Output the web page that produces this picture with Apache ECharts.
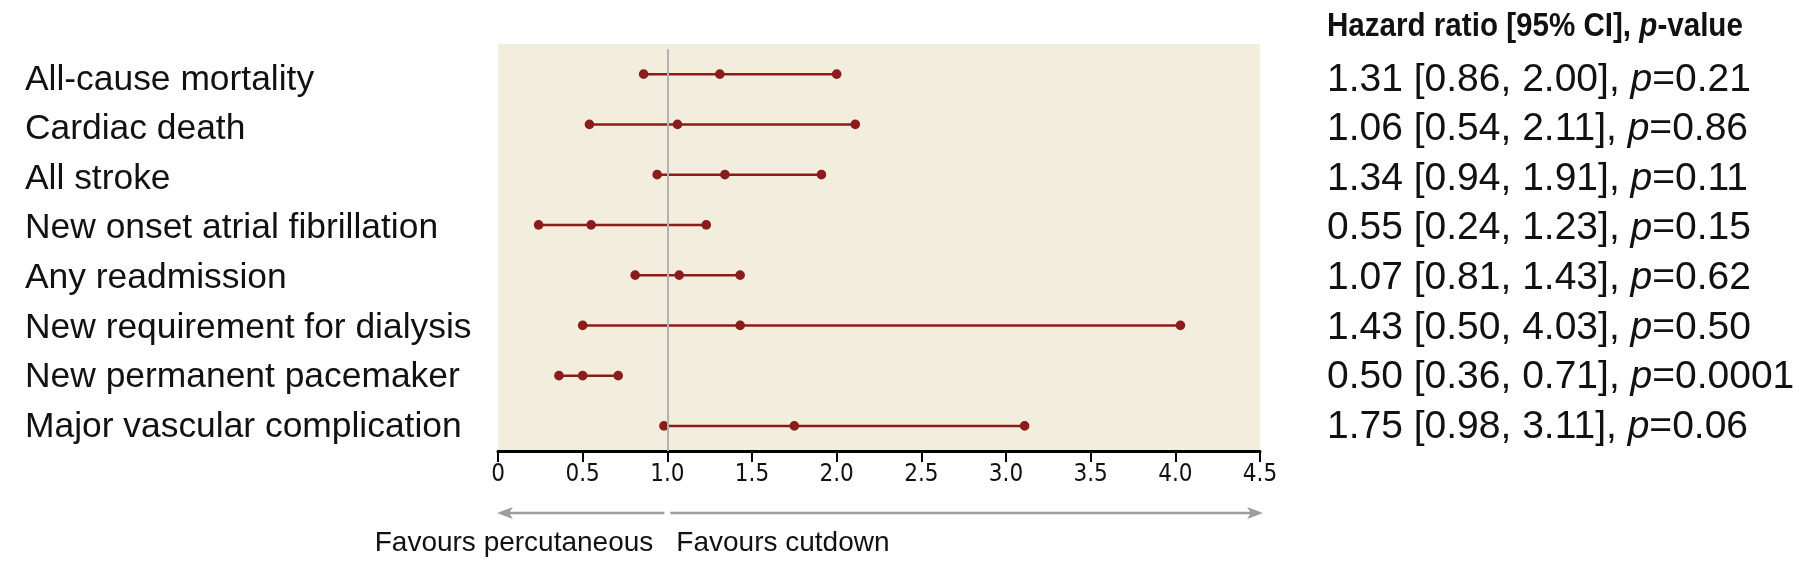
<!DOCTYPE html>
<html>
<head>
<meta charset="utf-8">
<script src="https://cdn.jsdelivr.net/npm/echarts@6/dist/echarts.min.js"></script>
<style>html,body{margin:0;padding:0;background:#fff}#c{width:1808px;height:579px}</style>
</head>
<body>
<div id="c"></div>
<script>
const categories = ['All-cause mortality','Cardiac death','All stroke','New onset atrial fibrillation','Any readmission','New requirement for dialysis','New permanent pacemaker','Major vascular complication'];
const hazardRatio = [1.31, 1.06, 1.34, 0.55, 1.07, 1.43, 0.50, 1.75];
const lowerCI = [0.86, 0.54, 0.94, 0.24, 0.81, 0.50, 0.36, 0.98];
const upperCI = [2.00, 2.11, 1.91, 1.23, 1.43, 4.03, 0.71, 3.11];
const pValues = ['0.21', '0.86', '0.11', '0.15', '0.62', '0.50', '0.0001', '0.06'];
const xTicks = [0, 0.5, 1.0, 1.5, 2.0, 2.5, 3.0, 3.5, 4.0, 4.5];
const headerParts = ['Hazard ratio [95% CI], ', 'p', '-value'];
const favourLabels = ['Favours percutaneous', 'Favours cutdown'];

const NARROW = "'Liberation Sans Narrow', 'DejaVu Sans Condensed', 'Liberation Sans', sans-serif";
const SANS = "'Liberation Sans', Arial, sans-serif";
const RED = '#8b1c1c';

const chart = echarts.init(document.getElementById('c'));
const seriesData = categories.map((c, i) => [lowerCI[i], hazardRatio[i], upperCI[i], i]);

chart.setOption({
  animation: false,
  grid: [
    {left: 498, right: 548, top: 49, bottom: 128, show: false},
    {left: 498, right: 548, top: 55, bottom: 127, show: false}
  ],
  xAxis: [{
    type: 'value', gridIndex: 0, min: 0, max: 4.5, interval: 0.5,
    axisLine: {show: true, onZero: false, lineStyle: {color: '#000', width: 3}},
    axisTick: {show: true, length: 11, lineStyle: {color: '#000', width: 2}},
    splitLine: {show: false},
    axisLabel: {
      margin: 12, fontFamily: NARROW, fontSize: 24, color: '#111',
      formatter: v => (v === 0 ? '0' : v.toFixed(1))
    }
  }, {
    type: 'value', gridIndex: 1, min: 0, max: 4.5, show: false
  }],
  yAxis: [{
    type: 'category', gridIndex: 0, inverse: true, data: categories,
    axisLine: {show: false}, axisTick: {show: false}, splitLine: {show: false},
    axisLabel: {show: false}
  }, {
    type: 'category', gridIndex: 1, inverse: true, position: 'left', data: categories,
    axisLine: {show: false}, axisTick: {show: false}, splitLine: {show: false},
    axisLabel: {align: 'left', margin: 473, fontFamily: SANS, fontSize: 35.4, color: '#111'}
  }, {
    type: 'category', gridIndex: 1, inverse: true, position: 'right', data: categories,
    axisLine: {show: false}, axisTick: {show: false}, splitLine: {show: false},
    axisLabel: {
      align: 'left', margin: 67,
      formatter: (v, i) => '{n|' + hazardRatio[i].toFixed(2) + ' [' + lowerCI[i].toFixed(2) + ', ' + upperCI[i].toFixed(2) + '], }{i|p}{n|=' + pValues[i] + '}',
      rich: {
        n: {fontFamily: SANS, fontSize: 39, color: '#111'},
        i: {fontFamily: SANS, fontStyle: 'italic', fontSize: 39, color: '#111'}
      }
    }
  }],
  series: [{
    type: 'scatter', data: [], silent: true, xAxisIndex: 0, yAxisIndex: 0,
    markLine: {
      silent: true, symbol: 'none', label: {show: false},
      lineStyle: {color: '#b2b2b2', width: 2, type: 'solid'},
      data: [{xAxis: 1}]
    },
    z: 1
  }, {
    type: 'custom', data: seriesData, z: 3, xAxisIndex: 0, yAxisIndex: 0,
    renderItem: function (params, api) {
      const row = api.value(3);
      const pL = api.coord([api.value(0), row]);
      const pH = api.coord([api.value(1), row]);
      const pU = api.coord([api.value(2), row]);
      const r = 4.8;
      return {
        type: 'group',
        children: [
          {type: 'line', shape: {x1: pL[0], y1: pL[1], x2: pU[0], y2: pU[1]}, style: {stroke: RED, lineWidth: 2.5}},
          {type: 'circle', shape: {cx: pL[0], cy: pL[1], r: r}, style: {fill: RED}},
          {type: 'circle', shape: {cx: pH[0], cy: pH[1], r: r}, style: {fill: RED}},
          {type: 'circle', shape: {cx: pU[0], cy: pU[1], r: r}, style: {fill: RED}}
        ]
      };
    }
  }]
});

// background panel, header and direction arrows, placed from the axis scale
const x0 = chart.convertToPixel({xAxisIndex: 0}, xTicks[0]);
const x1 = chart.convertToPixel({xAxisIndex: 0}, 1);
const xMax = chart.convertToPixel({xAxisIndex: 0}, xTicks[xTicks.length - 1]);
const axisY = 579 - 128;
const arrowY = 513;
const GRAY = '#9c9c9c';
chart.setOption({
  graphic: [
    {type: 'rect', z: -10, silent: true, shape: {x: x0, y: 44, width: xMax - x0, height: axisY - 44}, style: {fill: '#f2eddc'}},
    {type: 'text', silent: true, x: 1327, y: 27, scaleX: 0.87, originX: 0, originY: 0,
      style: {
        text: '{b|' + headerParts[0] + '}{bi|' + headerParts[1] + '}{b|' + headerParts[2] + '}',
        verticalAlign: 'middle', align: 'left',
        rich: {
          b: {fontFamily: SANS, fontWeight: 'bold', fontSize: 34, fill: '#111'},
          bi: {fontFamily: SANS, fontWeight: 'bold', fontStyle: 'italic', fontSize: 34, fill: '#111'}
        }
      }},
    {type: 'line', silent: true, shape: {x1: x0 + 8, y1: arrowY, x2: x1 - 3, y2: arrowY}, style: {stroke: GRAY, lineWidth: 2.5}},
    {type: 'polygon', silent: true, shape: {points: [[x0 - 1, arrowY], [x0 + 15, arrowY - 6], [x0 + 11, arrowY], [x0 + 15, arrowY + 6]]}, style: {fill: GRAY}},
    {type: 'line', silent: true, shape: {x1: x1 + 3, y1: arrowY, x2: xMax - 8, y2: arrowY}, style: {stroke: GRAY, lineWidth: 2.5}},
    {type: 'polygon', silent: true, shape: {points: [[xMax + 3, arrowY], [xMax - 13, arrowY - 6], [xMax - 9, arrowY], [xMax - 13, arrowY + 6]]}, style: {fill: GRAY}},
    {type: 'text', silent: true, x: x1 - 14, y: 543, style: {text: favourLabels[0], align: 'right', verticalAlign: 'middle', font: '28px ' + SANS, fill: '#111'}},
    {type: 'text', silent: true, x: x1 + 9, y: 543, style: {text: favourLabels[1], align: 'left', verticalAlign: 'middle', font: '28px ' + SANS, fill: '#111'}}
  ]
});
</script>
</body>
</html>
